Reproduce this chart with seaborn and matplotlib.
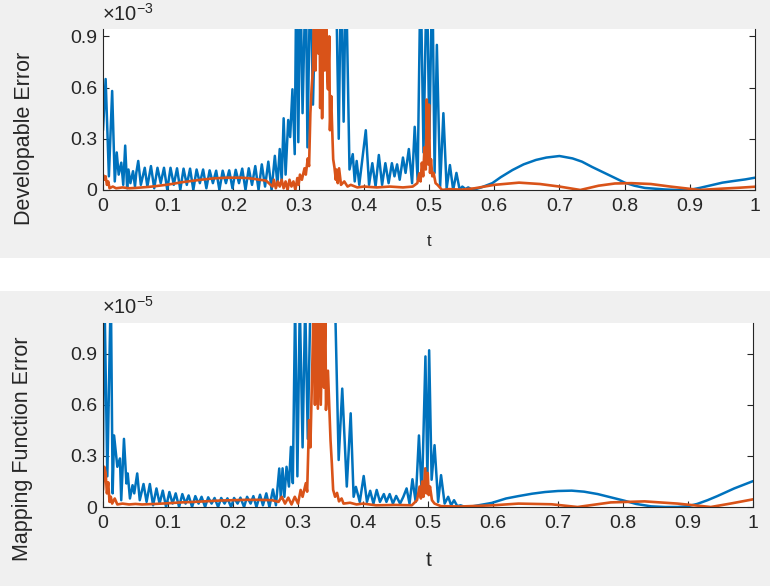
import numpy as np
import pandas as pd
import matplotlib
matplotlib.use("Agg")
import matplotlib.pyplot as plt
import seaborn as sns
from matplotlib.ticker import FuncFormatter

# ---- data (top panel in units of 1e-3, bottom in 1e-5) ----
dev_blue_t = [0.000, 0.004, 0.009, 0.014, 0.018, 0.021, 0.024, 0.028, 0.031, 0.034,
              0.037, 0.039, 0.042, 0.046, 0.049, 0.051, 0.054, 0.058, 0.064, 0.068,
              0.0735, 0.0785, 0.0835, 0.0885, 0.0935, 0.0985, 0.1035, 0.1085, 0.1135, 0.1185,
              0.1235, 0.1285, 0.1335, 0.1385, 0.1435, 0.1485, 0.1535, 0.1585, 0.1635, 0.1685,
              0.1735, 0.1785, 0.1835, 0.1885, 0.1935, 0.1985, 0.2035, 0.2085, 0.2135, 0.2185,
              0.2235, 0.2285, 0.2335, 0.2385, 0.2435, 0.2485, 0.2535, 0.2585, 0.2635, 0.2675,
              0.271, 0.274, 0.277, 0.280, 0.284, 0.287, 0.2905, 0.294, 0.2965, 0.2995,
              0.3025, 0.306, 0.311, 0.3135, 0.318, 0.322, 0.327, 0.345, 0.357, 0.3615,
              0.365, 0.369, 0.3725, 0.378, 0.383, 0.386, 0.389, 0.393, 0.403, 0.408,
              0.413, 0.418, 0.423, 0.428, 0.433, 0.438, 0.443, 0.447, 0.451, 0.455,
              0.460, 0.464, 0.469, 0.474, 0.478, 0.4825, 0.487, 0.4915, 0.4965, 0.5005,
              0.505, 0.5085, 0.512, 0.517, 0.522, 0.527, 0.532, 0.537, 0.542, 0.547,
              0.551, 0.556, 0.560, 0.567, 0.580, 0.597, 0.610, 0.628, 0.645, 0.664,
              0.680, 0.700, 0.720, 0.7345, 0.750, 0.770, 0.785, 0.800, 0.815, 0.831,
              0.862, 0.880, 0.899, 0.915, 0.935, 0.950, 0.966, 0.985, 1.000]
dev_blue_v = [0.35, 0.65, 0.08, 0.58, 0.05, 0.22, 0.09, 0.16, 0.03, 0.26,
              0.01, 0.12, 0.04, 0.11, 0.02, 0.10, 0.17, 0.03, 0.13, 0.02,
              0.14, 0.01, 0.13, 0.04, 0.13, 0.00, 0.13, 0.03, 0.127, 0.00,
              0.125, 0.03, 0.125, 0.00, 0.12, 0.04, 0.12, 0.01, 0.115, 0.04,
              0.113, 0.00, 0.113, 0.04, 0.115, 0.01, 0.118, 0.04, 0.125, 0.00,
              0.127, 0.03, 0.14, 0.00, 0.15, 0.02, 0.166, 0.00, 0.20, 0.03,
              0.24, 0.05, 0.42, 0.09, 0.41, 0.31, 0.59, 0.21, 1.30, 0.28,
              1.30, 0.45, 1.30, 0.25, 1.30, 0.50, 1.30, 1.30, 1.30, 0.30,
              1.30, 0.40, 1.30, 0.12, 0.21, 0.05, 0.17, 0.03, 0.35, 0.03,
              0.157, 0.02, 0.205, 0.03, 0.157, 0.04, 0.157, 0.08, 0.15, 0.06,
              0.19, 0.10, 0.24, 0.04, 0.37, 0.06, 1.30, 0.22, 1.30, 0.30,
              1.30, 0.10, 0.85, 0.02, 0.45, 0.01, 0.146, 0.00, 0.10, 0.00,
              0.02, 0.005, 0.015, 0.00, 0.015, 0.04, 0.075, 0.117, 0.15, 0.176,
              0.19, 0.199, 0.185, 0.166, 0.135, 0.098, 0.07, 0.043, 0.025, 0.012,
              0.003, 0.00, 0.00, 0.012, 0.030, 0.043, 0.052, 0.062, 0.072]

dev_orange_t = [0.000, 0.002, 0.004, 0.006, 0.008, 0.010, 0.015, 0.020, 0.030, 0.040,
                0.050, 0.060, 0.070, 0.080, 0.090, 0.100, 0.110, 0.120, 0.130, 0.140,
                0.150, 0.160, 0.170, 0.180, 0.190, 0.200, 0.210, 0.220, 0.230, 0.240,
                0.250, 0.260, 0.262, 0.265, 0.268, 0.271, 0.274, 0.277, 0.280, 0.283,
                0.286, 0.289, 0.292, 0.295, 0.298, 0.300, 0.302, 0.305, 0.309, 0.311,
                0.314, 0.316, 0.318, 0.320, 0.322, 0.324, 0.326, 0.328, 0.330, 0.332,
                0.333, 0.335, 0.336, 0.338, 0.340, 0.342, 0.344, 0.345, 0.347, 0.348,
                0.350, 0.351, 0.353, 0.355, 0.357, 0.358, 0.360, 0.362, 0.365, 0.370,
                0.375, 0.380, 0.390, 0.400, 0.420, 0.440, 0.460, 0.475, 0.482, 0.485,
                0.487, 0.489, 0.491, 0.493, 0.495, 0.4965, 0.4985, 0.500, 0.5015, 0.503,
                0.505, 0.507, 0.510, 0.513, 0.520, 0.530, 0.550, 0.570, 0.600, 0.638,
                0.670, 0.700, 0.732, 0.760, 0.785, 0.810, 0.840, 0.870, 0.915, 0.950,
                0.975, 1.000]
dev_orange_v = [0.09, 0.06, 0.08, 0.03, 0.05, 0.01, 0.02, 0.01, 0.015, 0.01,
                0.012, 0.015, 0.018, 0.022, 0.027, 0.032, 0.038, 0.045, 0.05, 0.055,
                0.06, 0.064, 0.068, 0.07, 0.072, 0.072, 0.072, 0.07, 0.066, 0.06,
                0.055, 0.02, 0.06, 0.01, 0.05, 0.02, 0.06, 0.01, 0.05, 0.00,
                0.06, 0.02, 0.05, 0.00, 0.07, 0.03, 0.09, 0.06, 0.127, 0.09,
                0.185, 0.14, 0.45, 0.60, 0.71, 1.20, 0.70, 1.20, 0.80, 1.20,
                0.48, 1.20, 0.42, 1.20, 0.70, 1.20, 0.65, 0.59, 0.90, 0.35,
                0.55, 0.41, 0.18, 0.13, 0.06, 0.12, 0.04, 0.127, 0.03, 0.05,
                0.02, 0.03, 0.015, 0.02, 0.015, 0.02, 0.015, 0.02, 0.04, 0.097,
                0.05, 0.16, 0.08, 0.25, 0.12, 0.53, 0.15, 0.50, 0.10, 0.18,
                0.08, 0.10, 0.04, 0.03, 0.00, 0.005, 0.002, 0.01, 0.03, 0.043,
                0.035, 0.02, 0.00, 0.025, 0.038, 0.04, 0.035, 0.02, 0.00, 0.008,
                0.013, 0.019]

map_blue_t = [0.000, 0.002, 0.0066, 0.012, 0.0148, 0.017, 0.022, 0.026, 0.028, 0.0322,
              0.036, 0.038, 0.0414, 0.0454, 0.048, 0.0526, 0.0565, 0.0623, 0.067, 0.072,
              0.077, 0.0822, 0.087, 0.0919, 0.097, 0.1021, 0.107, 0.1118, 0.117, 0.122,
              0.127, 0.1317, 0.137, 0.142, 0.147, 0.1516, 0.157, 0.1618, 0.167, 0.1716,
              0.177, 0.1818, 0.187, 0.1914, 0.197, 0.2016, 0.207, 0.2114, 0.217, 0.2216,
              0.227, 0.2313, 0.236, 0.2415, 0.246, 0.2512, 0.256, 0.2614, 0.266, 0.2711,
              0.2735, 0.2762, 0.279, 0.2823, 0.286, 0.289, 0.292, 0.2955, 0.299, 0.3027,
              0.307, 0.311, 0.315, 0.319, 0.327, 0.345, 0.357, 0.3625, 0.368, 0.375,
              0.381, 0.3855, 0.389, 0.395, 0.401, 0.406, 0.411, 0.416, 0.421, 0.426,
              0.432, 0.436, 0.441, 0.446, 0.451, 0.457, 0.462, 0.467, 0.4715, 0.476,
              0.481, 0.486, 0.4905, 0.496, 0.499, 0.5017, 0.5055, 0.510, 0.5155, 0.520,
              0.5255, 0.531, 0.5355, 0.540, 0.545, 0.550, 0.557, 0.570, 0.598, 0.620,
              0.639, 0.660, 0.680, 0.700, 0.721, 0.740, 0.761, 0.780, 0.802, 0.820,
              0.843, 0.865, 0.884, 0.900, 0.914, 0.930, 0.945, 0.960, 0.971, 0.985,
              1.000]
map_blue_v = [0.30, 1.30, 0.18, 1.30, 0.08, 0.42, 0.236, 0.285, 0.04, 0.40,
              0.138, 0.197, 0.05, 0.128, 0.08, 0.197, 0.04, 0.135, 0.03, 0.135,
              0.01, 0.109, 0.02, 0.096, 0.00, 0.088, 0.02, 0.08, 0.00, 0.076,
              0.02, 0.068, 0.00, 0.064, 0.02, 0.06, 0.00, 0.057, 0.02, 0.053,
              0.00, 0.053, 0.02, 0.051, 0.00, 0.053, 0.02, 0.055, 0.00, 0.06,
              0.02, 0.064, 0.00, 0.072, 0.01, 0.08, 0.00, 0.103, 0.01, 0.226,
              0.05, 0.227, 0.06, 0.236, 0.12, 0.353, 0.14, 1.20, 0.18, 1.20,
              0.35, 1.20, 0.40, 1.20, 1.20, 1.20, 1.20, 0.276, 0.695, 0.12,
              0.55, 0.06, 0.118, 0.03, 0.182, 0.03, 0.095, 0.02, 0.10, 0.03,
              0.076, 0.03, 0.076, 0.02, 0.065, 0.02, 0.06, 0.109, 0.02, 0.163,
              0.03, 0.42, 0.06, 0.884, 0.157, 0.92, 0.16, 0.363, 0.03, 0.187,
              0.02, 0.06, 0.01, 0.04, 0.005, 0.01, 0.00, 0.005, 0.024, 0.05,
              0.064, 0.078, 0.088, 0.094, 0.096, 0.09, 0.076, 0.058, 0.037, 0.018,
              0.004, 0.00, 0.00, 0.005, 0.018, 0.04, 0.064, 0.09, 0.109, 0.13,
              0.152]

map_orange_t = [0.000, 0.002, 0.004, 0.006, 0.008, 0.010, 0.012, 0.014, 0.018, 0.022,
                0.030, 0.040, 0.050, 0.060, 0.080, 0.100, 0.120, 0.140, 0.160, 0.180,
                0.200, 0.220, 0.240, 0.260, 0.270, 0.275, 0.280, 0.285, 0.290, 0.295,
                0.300, 0.304, 0.307, 0.312, 0.314, 0.317, 0.319, 0.322, 0.324, 0.326,
                0.328, 0.3305, 0.333, 0.335, 0.338, 0.340, 0.342, 0.343, 0.346, 0.350,
                0.352, 0.354, 0.357, 0.360, 0.363, 0.367, 0.370, 0.380, 0.390, 0.400,
                0.420, 0.450, 0.475, 0.483, 0.487, 0.489, 0.491, 0.493, 0.4957, 0.4975,
                0.4995, 0.501, 0.503, 0.506, 0.510, 0.520, 0.550, 0.600, 0.639, 0.690,
                0.730, 0.781, 0.833, 0.884, 0.935, 0.965, 1.000]
map_orange_v = [0.10, 0.236, 0.20, 0.08, 0.145, 0.03, 0.06, 0.02, 0.05, 0.015,
                0.02, 0.015, 0.018, 0.015, 0.018, 0.022, 0.027, 0.03, 0.034, 0.038,
                0.04, 0.042, 0.042, 0.04, 0.03, 0.06, 0.02, 0.055, 0.015, 0.06,
                0.02, 0.10, 0.06, 0.14, 0.09, 0.51, 0.35, 0.84, 1.20, 0.60,
                1.20, 0.577, 1.20, 0.60, 1.20, 0.70, 1.20, 0.57, 0.80, 0.39,
                0.256, 0.101, 0.06, 0.083, 0.033, 0.05, 0.02, 0.025, 0.015, 0.02,
                0.01, 0.012, 0.01, 0.04, 0.12, 0.05, 0.15, 0.06, 0.227, 0.08,
                0.20, 0.07, 0.12, 0.04, 0.02, 0.005, 0.003, 0.01, 0.02, 0.016,
                0.00, 0.027, 0.033, 0.02, 0.00, 0.02, 0.045]

x_ticks = [0, 0.1, 0.2, 0.3, 0.4, 0.5, 0.6, 0.7, 0.8, 0.9, 1]
y_ticks = [0, 0.3, 0.6, 0.9]

BLUE = "#0072BD"
ORANGE = "#D95319"
GRAY = "#f0f0f0"
DARK = "#262626"

sns.set_theme(style="white")
plt.rcParams['font.family'] = ['Liberation Sans', 'DejaVu Sans']
plt.rcParams['mathtext.default'] = 'regular'

fig = plt.figure(figsize=(7.7, 5.86), dpi=100, facecolor=GRAY)
# white strip between the two panels
fig.add_artist(plt.Rectangle((0, 0.5034), 1, 0.0563, transform=fig.transFigure,
                             facecolor="white", edgecolor="none", zorder=-5))

ax1 = fig.add_axes([0.1338, 0.6758, 0.8468, 0.2747])
ax2 = fig.add_axes([0.1338, 0.1348, 0.8442, 0.3140])

fmt = FuncFormatter(lambda v, p: f"{v:g}")


def draw(ax, bt, bv, ot, ov, ymax):
    db = pd.DataFrame({"t": bt, "v": bv})
    do = pd.DataFrame({"t": ot, "v": ov})
    sns.lineplot(data=db, x="t", y="v", ax=ax, color=BLUE, linewidth=1.8,
                 estimator=None, sort=False)
    sns.lineplot(data=do, x="t", y="v", ax=ax, color=ORANGE, linewidth=1.9,
                 estimator=None, sort=False)
    ax.set_xlim(0, 1)
    ax.set_ylim(0, ymax)
    ax.set_xticks(x_ticks)
    ax.set_yticks(y_ticks)
    ax.xaxis.set_major_formatter(fmt)
    ax.yaxis.set_major_formatter(fmt)
    ax.set_xlabel("")
    ax.set_ylabel("")
    ax.set_facecolor("white")
    for s in ["left", "bottom", "right"]:
        ax.spines[s].set_visible(True)
        ax.spines[s].set_color(DARK)
        ax.spines[s].set_linewidth(0.8)
    ax.spines["top"].set_visible(False)
    ax.tick_params(axis="both", direction="in", length=4.5, width=0.8,
                   colors=DARK, labelsize=14, left=True, right=True,
                   bottom=True, top=False, labelright=False)
    ax.tick_params(axis="x", pad=6)
    ax.tick_params(axis="y", pad=4)


draw(ax1, dev_blue_t, dev_blue_v, dev_orange_t, dev_orange_v, 0.943)
draw(ax2, map_blue_t, map_blue_v, map_orange_t, map_orange_v, 1.08)

# exponent labels
fig.text(0.1325, 1 - 21 / 586, r"$\times10^{-3}$", fontsize=14.5, color=DARK,
         ha="left", va="baseline")
fig.text(0.1325, 1 - 314 / 586, r"$\times10^{-5}$", fontsize=14.5, color=DARK,
         ha="left", va="baseline")

# y labels
fig.text(25 / 770, 1 - 138.5 / 586, "Developable Error", rotation=90,
         fontsize=15.5, color=DARK, ha="center", va="center")
fig.text(22.5 / 770, 1 - 449 / 586, "Mapping Function Error", rotation=90,
         fontsize=15.5, color=DARK, ha="center", va="center")

# x labels
fig.text(429 / 770, 1 - 241 / 586, "t", fontsize=12, color=DARK,
         ha="center", va="center")
fig.text(429 / 770, 1 - 560 / 586, "t", fontsize=15, color=DARK,
         ha="center", va="center")

fig.savefig("out.png", dpi=100, facecolor=GRAY)
